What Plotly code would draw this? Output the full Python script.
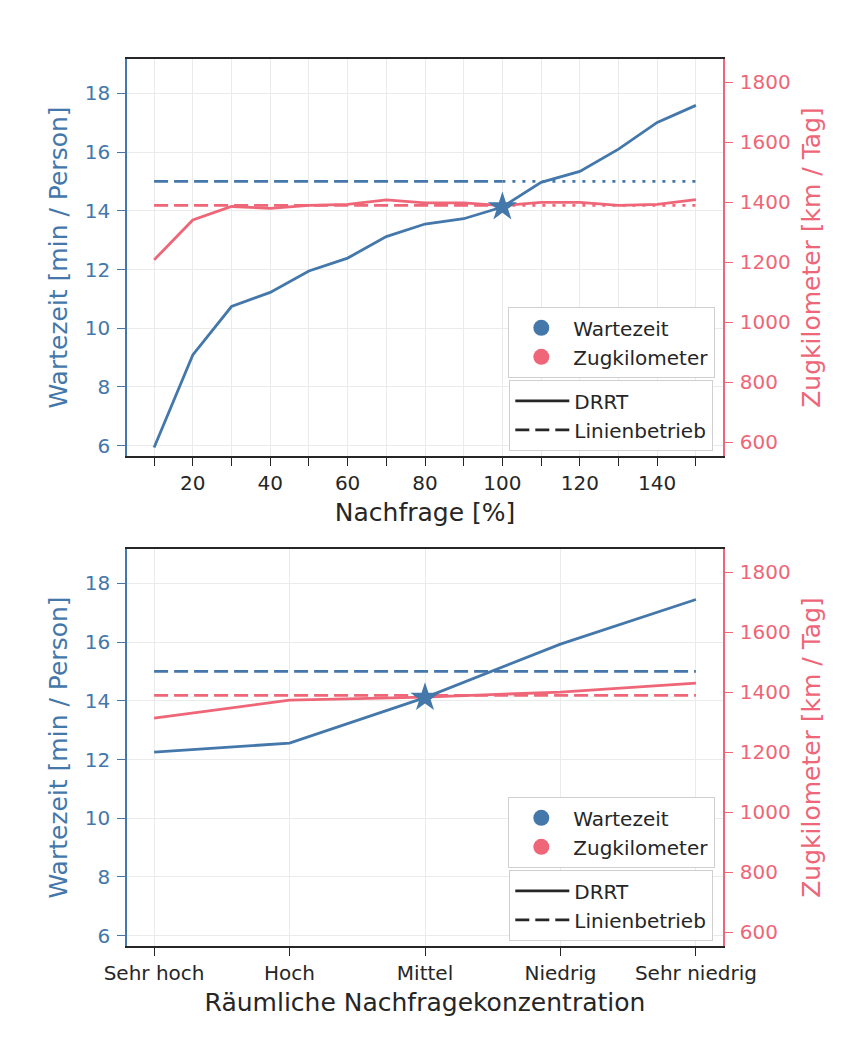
import plotly.graph_objects as go

# ---------------- data ----------------
nachfrage = [10, 20, 30, 40, 50, 60, 70, 80, 90, 100, 110, 120, 130, 140, 150]
nachfrage_ticktext = ["", "20", "", "40", "", "60", "", "80", "", "100", "", "120", "", "140", ""]
wartezeit_drrt_top = [5.94, 9.09, 10.74, 11.22, 11.95, 12.39, 13.12, 13.55, 13.73, 14.13, 14.97, 15.34, 16.1, 17.01, 17.59]
zugkm_drrt_top = [1208, 1341, 1386, 1380, 1390, 1393, 1408, 1398, 1398, 1389, 1400, 1400, 1390, 1393, 1409]

linien_x_dashed = [10, 100]
linien_x_dotted = [100, 150]
linien_wartezeit = 15.0
linien_zugkm = 1390

referenz_nachfrage = 100
referenz_wartezeit_top = 14.13

konzentration = ["Sehr hoch", "Hoch", "Mittel", "Niedrig", "Sehr niedrig"]
wartezeit_drrt_bottom = [12.25, 12.56, 14.11, 15.93, 17.45]
zugkm_drrt_bottom = [1314, 1374, 1384, 1401, 1431]
referenz_konzentration = "Mittel"
referenz_wartezeit_bottom = 14.11

left_ticks = [6, 8, 10, 12, 14, 16, 18]
right_ticks = [600, 800, 1000, 1200, 1400, 1600, 1800]

# ---------------- style ----------------
BLUE = "#4477AA"
RED = "#EE6677"
DARK = "#262626"
GRID = "#ebebeb"
FONT = "DejaVu Sans"
LW = 2.8
DASH = "14px,6px"
DOT = "3px,7px"

W, H = 857, 1059
OFF = 8  # page offset of the figure (body margin)
ML, MR, MT, MB = 119, 142, 51, 121
PW = W - ML - MR
PH = H - MT - MB


def px_x(page_px):
    return (page_px - OFF - ML) / PW


def px_y(page_py):
    return (H - MB - (page_py - OFF)) / PH


fig = go.Figure()

# ---- top subplot: red on 'y' (right), blue on 'y2' (left, overlay) ----
fig.add_trace(go.Scatter(x=nachfrage, y=zugkm_drrt_top, mode="lines",
                         line=dict(color=RED, width=LW), xaxis="x", yaxis="y", showlegend=False))
fig.add_trace(go.Scatter(x=linien_x_dashed, y=[linien_zugkm] * len(linien_x_dashed), mode="lines",
                         line=dict(color=RED, width=LW, dash=DASH), xaxis="x", yaxis="y", showlegend=False))
fig.add_trace(go.Scatter(x=linien_x_dotted, y=[linien_zugkm] * len(linien_x_dotted), mode="lines",
                         line=dict(color=RED, width=LW, dash=DOT), xaxis="x", yaxis="y", showlegend=False))
fig.add_trace(go.Scatter(x=linien_x_dashed, y=[linien_wartezeit] * len(linien_x_dashed), mode="lines",
                         line=dict(color=BLUE, width=LW, dash=DASH), xaxis="x", yaxis="y2", showlegend=False))
fig.add_trace(go.Scatter(x=linien_x_dotted, y=[linien_wartezeit] * len(linien_x_dotted), mode="lines",
                         line=dict(color=BLUE, width=LW, dash=DOT), xaxis="x", yaxis="y2", showlegend=False))
fig.add_trace(go.Scatter(x=nachfrage, y=wartezeit_drrt_top, mode="lines",
                         line=dict(color=BLUE, width=LW), xaxis="x", yaxis="y2", showlegend=False))
fig.add_trace(go.Scatter(x=[referenz_nachfrage], y=[referenz_wartezeit_top], mode="markers",
                         marker=dict(symbol="star", size=22, color=BLUE), xaxis="x", yaxis="y2", showlegend=False))

# ---- bottom subplot: red on 'y3' (right), blue on 'y4' (left, overlay) ----
fig.add_trace(go.Scatter(x=konzentration, y=zugkm_drrt_bottom, mode="lines",
                         line=dict(color=RED, width=LW), xaxis="x2", yaxis="y3", showlegend=False))
fig.add_trace(go.Scatter(x=konzentration, y=[linien_zugkm] * len(konzentration), mode="lines",
                         line=dict(color=RED, width=LW, dash=DASH), xaxis="x2", yaxis="y3", showlegend=False))
fig.add_trace(go.Scatter(x=konzentration, y=[linien_wartezeit] * len(konzentration), mode="lines",
                         line=dict(color=BLUE, width=LW, dash=DASH), xaxis="x2", yaxis="y4", showlegend=False))
fig.add_trace(go.Scatter(x=konzentration, y=wartezeit_drrt_bottom, mode="lines",
                         line=dict(color=BLUE, width=LW), xaxis="x2", yaxis="y4", showlegend=False))
fig.add_trace(go.Scatter(x=[referenz_konzentration], y=[referenz_wartezeit_bottom], mode="markers",
                         marker=dict(symbol="star", size=22, color=BLUE), xaxis="x2", yaxis="y4", showlegend=False))

# ---- legend entries ----
for lg, xa, ya in [("legend", "x", "y2"), ("legend3", "x2", "y4")]:
    fig.add_trace(go.Scatter(x=[None], y=[None], mode="markers", name="Wartezeit",
                             marker=dict(symbol="circle", size=18, color=BLUE),
                             legend=lg, xaxis=xa, yaxis=ya))
    fig.add_trace(go.Scatter(x=[None], y=[None], mode="markers", name="Zugkilometer",
                             marker=dict(symbol="circle", size=18, color=RED),
                             legend=lg, xaxis=xa, yaxis=ya))
for lg, xa, ya in [("legend2", "x", "y2"), ("legend4", "x2", "y4")]:
    fig.add_trace(go.Scatter(x=[None], y=[None], mode="lines", name="DRRT",
                             line=dict(color=DARK, width=LW), legend=lg, xaxis=xa, yaxis=ya))
    fig.add_trace(go.Scatter(x=[None], y=[None], mode="lines", name="Linienbetrieb",
                             line=dict(color=DARK, width=LW, dash=DASH), legend=lg, xaxis=xa, yaxis=ya))

top_dom = [px_y(456), 1.0]
bot_dom = [0.0, px_y(549)]


def tickfont(c):
    return dict(family=FONT, size=20, color=c)


def titlefont(c):
    return dict(family=FONT, size=25, color=c)


xcommon = dict(showline=True, linecolor=DARK, linewidth=1.7, mirror=True,
               ticks="outside", ticklen=8, tickwidth=1.3, tickcolor=DARK,
               showgrid=True, gridcolor=GRID, gridwidth=1, zeroline=False,
               tickfont=tickfont(DARK), title_font=titlefont(DARK), title_standoff=10)

left_common = dict(side="left", range=[5.65, 19.17], tickvals=left_ticks,
                   showline=True, linecolor=BLUE, linewidth=1.7,
                   ticks="outside", ticklen=8, tickwidth=1.3, tickcolor=BLUE,
                   showgrid=True, gridcolor=GRID, gridwidth=1, zeroline=False,
                   tickfont=tickfont(BLUE), title_font=titlefont(BLUE),
                   title_text="Wartezeit [min / Person]", title_standoff=10, ticklabelstandoff=3)
right_common = dict(side="right", range=[554, 1878], tickvals=right_ticks,
                    showline=True, linecolor=RED, linewidth=1.7,
                    ticks="outside", ticklen=8, tickwidth=1.3, tickcolor=RED,
                    showgrid=False, zeroline=False,
                    tickfont=tickfont(RED), title_font=titlefont(RED),
                    title_text="Zugkilometer [km / Tag]", title_standoff=13, ticklabelstandoff=3)

legend_common = dict(bgcolor="white", bordercolor="#d0d0d0", borderwidth=1.3,
                     font=dict(family=FONT, size=20, color=DARK), xanchor="right", yanchor="top",
                     tracegroupgap=0, itemwidth=54)

fig.update_layout(
    width=W, height=H,
    margin=dict(l=ML, r=MR, t=MT, b=MB),
    paper_bgcolor="white", plot_bgcolor="white",
    font=dict(family=FONT, color=DARK),
    xaxis=dict(domain=[0, 1], anchor="y", range=[3, 157], tickvals=nachfrage,
               ticktext=nachfrage_ticktext, title_text="Nachfrage [%]", **xcommon),
    yaxis=dict(domain=top_dom, anchor="x", **right_common),
    yaxis2=dict(overlaying="y", anchor="x", **left_common),
    xaxis2=dict(domain=[0, 1], anchor="y3", type="category", range=[-0.2, 4.2],
                categoryorder="array", categoryarray=konzentration,
                title_text="Räumliche Nachfragekonzentration", **xcommon),
    yaxis3=dict(domain=bot_dom, anchor="x2", **right_common),
    yaxis4=dict(overlaying="y3", anchor="x2", **left_common),
    legend=dict(x=px_x(715), y=px_y(307), **legend_common),
    legend2=dict(x=px_x(713), y=px_y(380), **legend_common),
    legend3=dict(x=px_x(715), y=px_y(797), **legend_common),
    legend4=dict(x=px_x(713), y=px_y(870), **legend_common),
)

fig.write_html("out.html")
